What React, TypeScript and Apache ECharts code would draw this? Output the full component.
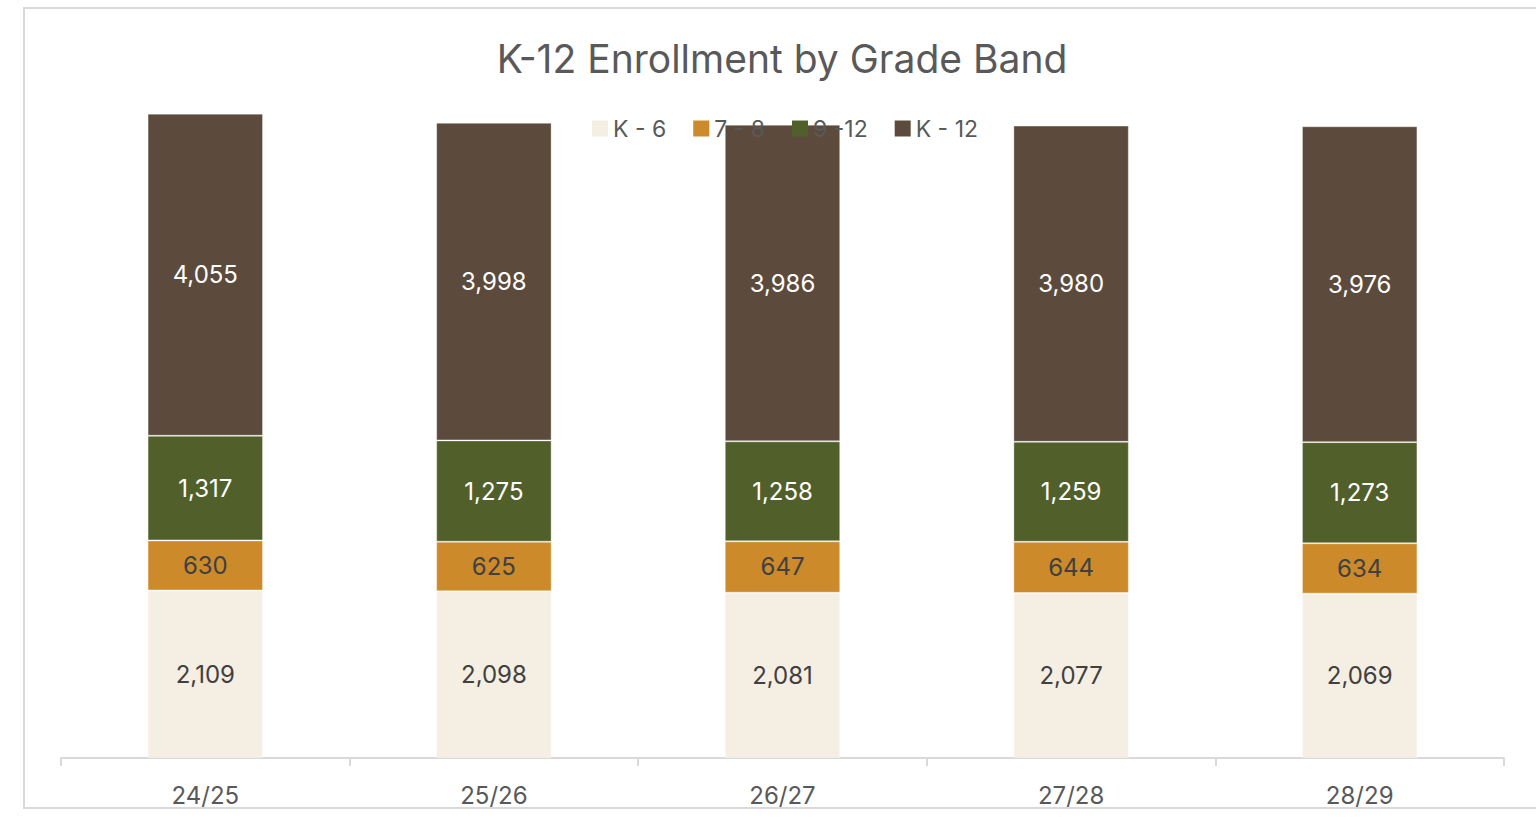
import React, { useEffect, useRef } from "react";
import * as echarts from "echarts";

const categories = ["24/25", "25/26", "26/27", "27/28", "28/29"];
const k6 = [2109, 2098, 2081, 2077, 2069];
const g78 = [630, 625, 647, 644, 634];
const g912 = [1317, 1275, 1258, 1259, 1273];
const k12 = [4055, 3998, 3986, 3980, 3976];
const seriesNames = ["K - 6", "7 - 8", "9 -12", "K - 12"];

const FONT = "Inter, 'Noto Sans', sans-serif";

export default function App() {
  const ref = useRef<HTMLDivElement>(null);
  useEffect(() => {
    if (!ref.current) return;
    const chart = echarts.init(ref.current, undefined, { renderer: "svg" });
    const fmt = (p: any) => Number(p.value).toLocaleString("en-US");
    const mk = (name: string, data: number[], color: string, labelColor: string) => ({
      name,
      type: "bar",
      stack: "total",
      data,
      barWidth: "40%",
      itemStyle: { color, borderColor: "rgba(255,255,255,0.35)", borderWidth: 1 },
      label: {
        show: true,
        position: "inside",
        formatter: fmt,
        color: labelColor,
        fontSize: 24,
        fontFamily: FONT,
      },
    });
    chart.setOption({
      animation: false,
      textStyle: { fontFamily: FONT },
      title: {
        text: "K-12 Enrollment by Grade Band",
        left: 777,
        textAlign: "center",
        top: 34,
        textStyle: { fontSize: 39, fontWeight: "normal", color: "#595959", fontFamily: FONT },
      },
      legend: {
        left: 587,
        top: 112,
        itemWidth: 16,
        itemHeight: 16,
        itemGap: 27,
        icon: "rect",
        itemStyle: { borderWidth: 0 },
        textStyle: { fontSize: 23, color: "#595959", fontFamily: FONT },
        data: seriesNames,
      },
      graphic: [
        {
          type: "rect",
          shape: { x: 24, y: 8, width: 1540, height: 800 },
          style: { fill: "none", stroke: "#D9D9D9", lineWidth: 2 },
          silent: true,
          z: 0,
        },
      ],
      grid: { left: 61, right: 32, top: 43, bottom: 60, containLabel: false },
      xAxis: {
        type: "category",
        data: categories,
        axisLine: { lineStyle: { color: "#D9D9D9", width: 2 } },
        axisTick: { show: true, length: 8, lineStyle: { color: "#D9D9D9", width: 2 } },
        axisLabel: { fontSize: 24, color: "#595959", margin: 25, fontFamily: FONT },
      },
      yAxis: { type: "value", min: 0, max: 9000, show: false, splitLine: { show: false } },
      series: [
        mk(seriesNames[0], k6, "#F5EEE3", "#404040"),
        mk(seriesNames[1], g78, "#CC8A2B", "#404040"),
        mk(seriesNames[2], g912, "#51602B", "#FFFFFF"),
        mk(seriesNames[3], k12, "#5C4B3D", "#FFFFFF"),
      ],
    });
    return () => chart.dispose();
  }, []);
  return (
    <div
      ref={ref}
      style={{ position: "fixed", left: 0, top: 0, width: 1536, height: 818, background: "#fff" }}
    />
  );
}
